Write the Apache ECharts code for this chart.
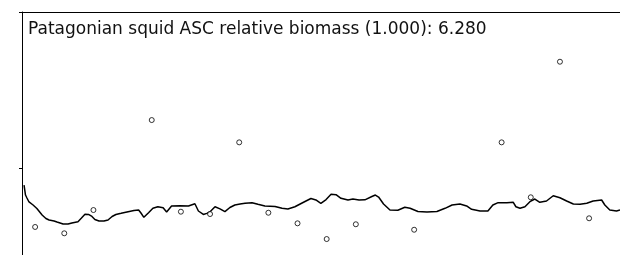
<!DOCTYPE html>
<html lang="en">
<head>
<meta charset="utf-8">
<title>Patagonian squid ASC relative biomass</title>
<script src="https://cdn.jsdelivr.net/npm/echarts@6/dist/echarts.min.js"></script>
<style>
  html, body { margin: 0; padding: 0; background: #fff; }
</style>
</head>
<body>
<div id="main" style="width:620px;height:255px;"></div>

<script type="text/javascript">
// model trajectory (years from start, relative biomass)
var lineYears = [0.07, 0.12, 0.17, 0.24, 0.38, 0.51, 0.69, 0.82, 0.93, 1.10, 1.20, 1.41, 1.58, 1.71, 1.92,
  2.04, 2.16, 2.28, 2.40, 2.50, 2.64, 2.81, 2.95, 3.09, 3.22, 3.40, 3.64, 3.84, 4.00, 4.08, 4.18, 4.34,
  4.49, 4.66, 4.84, 4.96, 5.13, 5.42, 5.71, 5.93, 6.05, 6.22, 6.34, 6.45, 6.62, 6.79, 6.96, 7.13, 7.30,
  7.48, 7.65, 7.89, 8.09, 8.33, 8.68, 8.92, 9.12, 9.36, 9.59, 9.74, 9.91, 10.08, 10.25, 10.43, 10.60,
  10.77, 10.94, 11.18, 11.35, 11.56, 11.76, 12.00, 12.12, 12.23, 12.40, 12.62, 12.89, 13.13, 13.31,
  13.58, 13.89, 14.23, 14.51, 14.75, 15.02, 15.25, 15.42, 15.71, 15.98, 16.15, 16.33, 16.63, 16.85,
  16.94, 17.08, 17.25, 17.42, 17.59, 17.76, 17.99, 18.22, 18.45, 18.68, 18.91, 19.14, 19.37, 19.59,
  19.88, 19.99, 20.16, 20.39, 20.51];
var lineBiomass = [0.806, 0.691, 0.657, 0.611, 0.576, 0.536, 0.461, 0.421, 0.403, 0.392, 0.380, 0.357, 0.357, 0.369, 0.384,
  0.426, 0.470, 0.467, 0.444, 0.409, 0.392, 0.392, 0.403, 0.444, 0.467, 0.480, 0.499, 0.513, 0.518, 0.484, 0.434, 0.487,
  0.538, 0.556, 0.545, 0.495, 0.565, 0.567, 0.565, 0.591, 0.507, 0.467, 0.480, 0.499, 0.556, 0.532, 0.499, 0.547, 0.576,
  0.588, 0.596, 0.603, 0.584, 0.565, 0.559, 0.538, 0.530, 0.556, 0.596, 0.622, 0.651, 0.634, 0.596, 0.639, 0.699,
  0.695, 0.653, 0.634, 0.645, 0.634, 0.636, 0.674, 0.691, 0.668, 0.588, 0.518, 0.516, 0.550, 0.538,
  0.501, 0.495, 0.501, 0.538, 0.576, 0.588, 0.565, 0.527, 0.507, 0.507, 0.576, 0.603, 0.603, 0.607,
  0.556, 0.538, 0.556, 0.614, 0.645, 0.607, 0.622, 0.683, 0.660, 0.622, 0.588, 0.584, 0.596, 0.622,
  0.634, 0.576, 0.518, 0.507, 0.518];

// survey observations
var obsYears = [0.45, 1.45, 2.45, 4.45, 5.45, 6.45, 7.45, 8.45, 9.45, 10.45, 11.45, 13.45, 16.45, 17.45, 18.45, 19.45];
var obsBiomass = [0.323, 0.250, 0.518, 1.555, 0.499, 0.472, 1.298, 0.487, 0.365, 0.184, 0.354, 0.291, 1.298, 0.665, 2.227, 0.423];

var yTicks = [1, 2.8];

var lineData = lineYears.map(function (t, i) { return [t, lineBiomass[i]]; });
var obsData = obsYears.map(function (t, i) { return [t, obsBiomass[i]]; });

var myChart = echarts.init(document.getElementById('main'));

var option = {
    animation: false,
    backgroundColor: '#fff',
    title: {
        text: 'Patagonian squid ASC relative biomass (1.000): 6.280',
        left: 28,
        top: 21,
        padding: 0,
        textStyle: {
            fontFamily: 'DejaVu Sans',
            fontSize: 17,
            fontWeight: 'normal',
            color: '#111'
        }
    },
    grid: {
        left: 22,
        right: 0,
        top: 12,
        bottom: 0
    },
    xAxis: {
        type: 'value',
        position: 'top',
        min: 0,
        max: 20.51,
        axisLine: { show: true, onZero: false, lineStyle: { color: '#000', width: 1 } },
        axisTick: { show: false },
        axisLabel: { show: false },
        splitLine: { show: false }
    },
    yAxis: {
        type: 'value',
        min: 0,
        max: 2.8,
        axisLine: { show: true, onZero: false, lineStyle: { color: '#000', width: 1 } },
        axisTick: { show: true, customValues: yTicks, length: 3, lineStyle: { color: '#000' } },
        axisLabel: { show: false },
        splitLine: { show: false }
    },
    series: [{
        name: 'model',
        type: 'line',
        data: lineData,
        showSymbol: false,
        lineStyle: { color: '#000', width: 1.5 },
        z: 2
    }, {
        name: 'observed',
        type: 'scatter',
        data: obsData,
        symbol: 'circle',
        symbolSize: 5,
        itemStyle: { color: '#fff', borderColor: '#000', borderWidth: 1 },
        z: 3
    }]
};

myChart.setOption(option);
</script>
</body>
</html>
